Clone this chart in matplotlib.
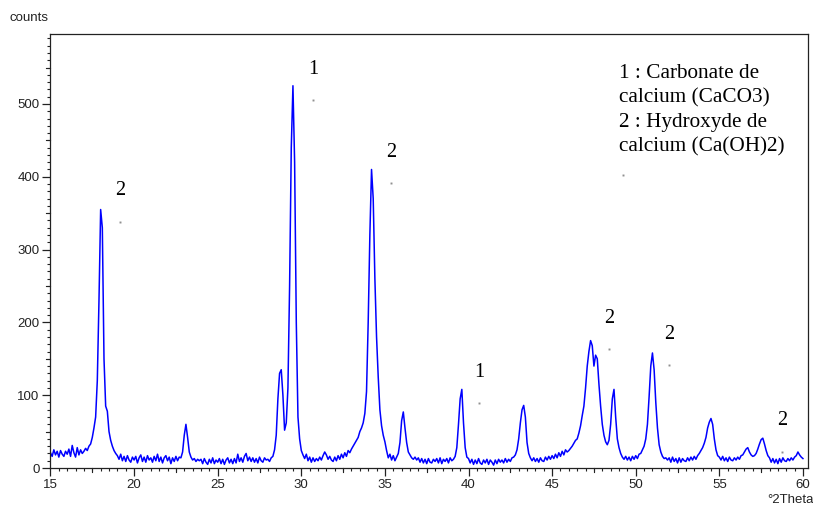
import numpy as np
import matplotlib
matplotlib.use("Agg")
import matplotlib.pyplot as plt
from matplotlib.ticker import MultipleLocator

# XRD pattern, step 0.1 deg 2theta, from 15.0 to 60.0
theta_start = 15.0
theta_step = 0.1
counts = [
    21, 16, 25, 18, 23, 15, 24, 19, 16, 23,          # 15
    19, 26, 16, 31, 21, 15, 28, 18, 25, 20,          # 16
    23, 27, 24, 30, 33, 42, 55, 70, 120, 230,        # 17
    355, 330, 150, 85, 78, 50, 38, 30, 24, 20,       # 18
    17, 12, 19, 10, 16, 9, 17, 11, 8, 15,            # 19
    11, 16, 7, 14, 18, 9, 15, 8, 17, 11,             # 20
    14, 8, 16, 10, 19, 9, 15, 7, 14, 17,             # 21
    10, 15, 6, 14, 9, 16, 10, 15, 14, 22,            # 22
    45, 60, 42, 22, 15, 11, 13, 9, 12, 10,           # 23
    12, 6, 13, 8, 5, 12, 7, 14, 6, 11,               # 24
    8, 13, 6, 12, 5, 11, 14, 7, 12, 6,               # 25
    13, 7, 19, 9, 14, 8, 16, 20, 10, 15,             # 26
    9, 14, 8, 13, 7, 15, 10, 8, 14, 11,              # 27
    12, 9, 14, 16, 25, 45, 95, 130, 135, 100,        # 28
    52, 62, 110, 250, 440, 525, 420, 200, 70, 40,    # 29
    24, 18, 13, 19, 10, 15, 8, 14, 9, 13,            # 30
    10, 15, 11, 17, 22, 18, 12, 16, 11, 9,           # 31
    15, 10, 17, 12, 19, 14, 21, 16, 24, 21,          # 32
    26, 30, 34, 38, 42, 50, 55, 62, 75, 105,         # 33
    200, 320, 410, 370, 260, 180, 125, 80, 58, 45,   # 34
    36, 24, 14, 19, 11, 17, 10, 15, 20, 35,          # 35
    65, 77, 55, 35, 22, 18, 14, 12, 15, 11,          # 36
    14, 8, 13, 7, 12, 6, 13, 8, 7, 12,               # 37
    9, 13, 7, 14, 6, 12, 9, 13, 7, 14,               # 38
    10, 12, 16, 28, 60, 95, 108, 62, 28, 15,         # 39
    13, 7, 12, 5, 11, 6, 13, 7, 5, 11,               # 40
    7, 12, 5, 11, 8, 4, 11, 6, 12, 8,                # 41
    11, 7, 13, 8, 12, 9, 14, 15, 18, 25,             # 42
    40, 62, 80, 86, 70, 35, 20, 14, 10, 14,          # 43
    9, 13, 8, 14, 10, 9, 15, 11, 16, 12,             # 44
    17, 13, 19, 14, 21, 16, 23, 18, 25, 22,          # 45
    24, 27, 30, 34, 38, 40, 48, 58, 72, 85,          # 46
    110, 140, 160, 175, 168, 140, 155, 150, 115, 85, # 47
    60, 45, 36, 32, 38, 60, 95, 108, 70, 40,         # 48
    28, 20, 15, 12, 16, 11, 15, 10, 16, 12,          # 49
    17, 13, 19, 20, 25, 30, 40, 60, 98, 140,         # 50
    158, 135, 90, 55, 32, 22, 16, 13, 14, 11,        # 51
    14, 8, 15, 9, 13, 7, 14, 8, 13, 10,              # 52
    9, 14, 10, 15, 11, 16, 12, 17, 20, 24,           # 53
    28, 34, 42, 55, 63, 68, 60, 40, 25, 17,          # 54
    15, 11, 16, 10, 14, 9, 15, 11, 10, 14,           # 55
    11, 15, 12, 17, 18, 22, 26, 28, 22, 18,          # 56
    16, 17, 20, 26, 33, 39, 41, 33, 24, 17,          # 57
    14, 8, 13, 7, 12, 6, 13, 8, 14, 10,              # 58
    9, 13, 10, 14, 11, 15, 17, 22, 18, 15,           # 59
    13,                                              # 60
]

# peak labels (1 = CaCO3, 2 = Ca(OH)2) and their little marker dots
label_text = ["2", "1", "2", "1", "2", "2", "2"]
label_theta = [19.16, 30.72, 35.36, 40.63, 48.40, 52.01, 58.73]
label_counts = [338, 505, 391, 89, 163, 141, 22]
legend_theta = 49.26
legend_counts = 403
legend_text = "1 : Carbonate de\ncalcium (CaCO3)\n2 : Hydroxyde de\ncalcium (Ca(OH)2)"

theta = theta_start + theta_step * np.arange(len(counts))

fig = plt.figure(figsize=(8.13, 5.08), dpi=100)
ax = fig.add_axes([0.0621, 0.0787, 0.9317, 0.8543])

ax.plot(theta, counts, color="#0000ff", lw=1.1)

ax.set_xlim(15, 60.3)
ax.set_ylim(0, 596)

tick_font = ["Liberation Sans Narrow", "Liberation Sans", "DejaVu Sans"]
ax.xaxis.set_major_locator(MultipleLocator(5))
ax.xaxis.set_minor_locator(MultipleLocator(0.5))
ax.yaxis.set_major_locator(MultipleLocator(100))
ax.yaxis.set_minor_locator(MultipleLocator(10))
ax.set_yticks([100 * k for k in range(6)])
ax.tick_params(which="major", direction="out", length=6, width=0.9, color="#222222",
               labelsize=9.5, labelcolor="#222222", pad=2)
ax.tick_params(which="minor", direction="out", length=2.5, width=0.8, color="#222222")
for lab in ax.get_xticklabels() + ax.get_yticklabels():
    lab.set_family(tick_font)

# medium ticks at the half-steps
for v in np.arange(17.5, 60, 5):
    ax.plot([v, v], [0, -6], color="#222222", lw=0.8, clip_on=False)
for v in np.arange(50, 600, 100):
    ax.plot([15, 14.72], [v, v], color="#222222", lw=0.8, clip_on=False)

for s in ax.spines.values():
    s.set_linewidth(0.9)
    s.set_color("#222222")

fig.text(0.012, 0.965, "counts", fontsize=9.5, family="Liberation Sans",
         color="#222222", va="center", ha="left")
fig.text(0.944, 0.016, "°2Theta", fontsize=9.5, family="Liberation Sans",
         color="#222222", va="center", ha="left")

serif = ["Liberation Serif", "DejaVu Serif"]
for txt, t, c in zip(label_text, label_theta, label_counts):
    ax.plot(t, c, "s", ms=1.4, color="#909090", mec="none")
    ax.text(t, c + 42.6, txt, fontsize=14.5, family=serif, ha="center", va="center")

ax.plot(legend_theta, legend_counts, "s", ms=1.4, color="#909090", mec="none")
ax.text(49.0, 555, legend_text, fontsize=15.3, family=serif, ha="left", va="top",
        linespacing=1.37)

fig.savefig("out.png", dpi=100)
